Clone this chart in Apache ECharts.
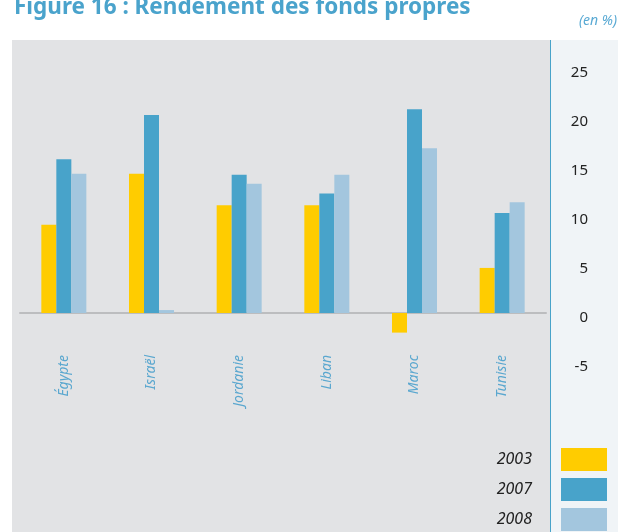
<!DOCTYPE html>
<html>
<head>
<meta charset="utf-8">
<script src="https://cdn.jsdelivr.net/npm/echarts@6/dist/echarts.min.js"></script>
<style>
  html, body { margin: 0; padding: 0; background: #fff; }
  #chart { width: 626px; height: 532px; }
</style>
</head>
<body>
<div id="chart"></div>
<script>
// data (en %)
var countries = ['Égypte', 'Israël', 'Jordanie', 'Liban', 'Maroc', 'Tunisie'];
var years = ['2003', '2007', '2008'];
var v2003 = [9.0, 14.2, 11.0, 11.0, -2.0, 4.6];
var v2007 = [15.7, 20.2, 14.1, 12.2, 20.8, 10.2];
var v2008 = [14.2, 0.3, 13.2, 14.1, 16.8, 11.3];
var yTicks = { min: -5, max: 25, step: 5 };

var colors = ['#ffcc00', '#48a3ca', '#a3c6de'];
var font = '"Noto Sans", sans-serif';

var chartDom = document.getElementById('chart');
var myChart = echarts.init(chartDom);

function barSeries(name, data, i) {
    return {
        name: name,
        type: 'bar',
        data: data,
        barWidth: 15,
        barGap: '0%',
        itemStyle: { color: colors[i] }
    };
}

var option = {
    animation: false,
    color: colors,
    graphic: [
        { type: 'rect', z: -10, shape: { x: 12, y: 40, width: 538, height: 492 }, style: { fill: '#e2e3e5' } },
        { type: 'rect', z: -10, shape: { x: 551, y: 40, width: 67, height: 492 }, style: { fill: '#f0f4f7' } },
        { type: 'line', z: 5, shape: { x1: 550.5, y1: 40, x2: 550.5, y2: 532 }, style: { stroke: '#48a3ca', lineWidth: 1 } },
        { type: 'text', left: 14, top: -4, style: { text: 'Figure 16 : Rendement des fonds propres', fill: '#4aa3cc', font: 'bold 22.5px ' + font } },
        { type: 'text', right: 9, top: 14, style: { text: '(en %)', fill: '#5aaad4', font: 'italic 14px ' + font } }
    ],
    legend: {
        data: years,
        orient: 'vertical',
        right: 19,
        top: 448,
        padding: 0,
        align: 'right',
        itemWidth: 46,
        itemHeight: 23,
        itemGap: 7,
        icon: 'rect',
        textStyle: { fontFamily: font, fontStyle: 'italic', fontSize: 16, color: '#222', padding: [0, 24, 0, 0] }
    },
    grid: { left: 20, right: 80, top: 68, bottom: 170 },
    xAxis: {
        type: 'category',
        data: countries,
        axisLine: { onZero: true, lineStyle: { color: '#bcbdbf', width: 2 } },
        axisTick: { show: false },
        axisLabel: {
            rotate: 90,
            margin: -7,
            fontFamily: font,
            fontStyle: 'italic',
            fontSize: 14,
            color: '#5aa7cf'
        }
    },
    yAxis: {
        type: 'value',
        position: 'right',
        min: yTicks.min,
        max: yTicks.max,
        interval: yTicks.step,
        axisLine: { show: false },
        axisTick: { show: false },
        splitLine: { show: false },
        axisLabel: {
            align: 'right',
            margin: 42,
            formatter: '{a|{value}}',
            rich: { a: { padding: [9, 0, 0, 0], fontFamily: font, fontSize: 15, color: '#222' } }
        }
    },
    series: [
        barSeries(years[0], v2003, 0),
        barSeries(years[1], v2007, 1),
        barSeries(years[2], v2008, 2)
    ]
};

myChart.setOption(option);
</script>
</body>
</html>
